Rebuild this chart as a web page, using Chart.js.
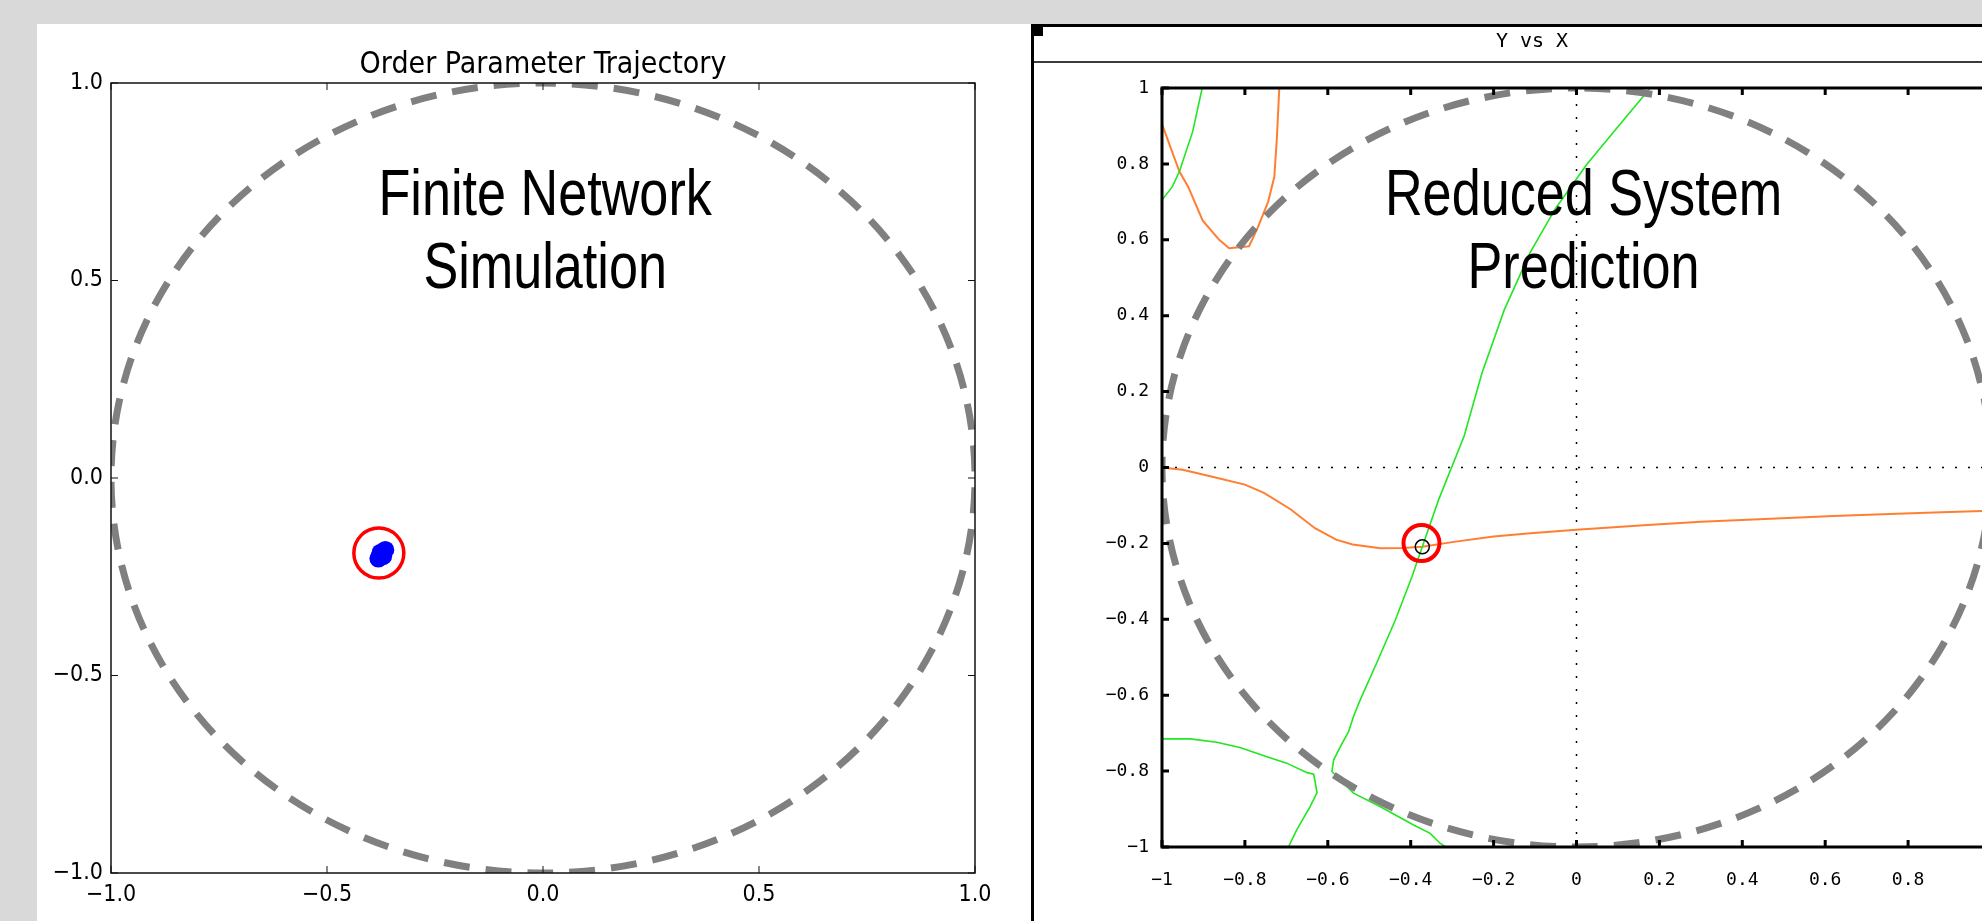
<!DOCTYPE html>
<html>
<head>
<meta charset="utf-8">
<title>Order parameter: network simulation vs reduced system</title>
<script src="https://cdn.jsdelivr.net/npm/chart.js@4.4.1/dist/chart.umd.min.js"></script>
<style>
  html, body { margin: 0; padding: 0; width: 1982px; height: 921px; overflow: hidden; background: #d9d9d9; }
  #leftPanel { position: absolute; left: 37px; top: 24px; width: 994px; height: 897px; background: #fff; }
  #rightPanel { position: absolute; left: 1031px; top: 24px; width: 999px; height: 894px; background: #fff;
                border-left: 3px solid #000; border-top: 3px solid #000; }
  #headerRule { position: absolute; left: 0; top: 34px; width: 100%; height: 2px; background: #3c3c3c; }
  #cornerBox { position: absolute; left: 1031px; top: 24px; width: 12px; height: 12px; background: #000; }
  canvas { position: absolute; left: 0; top: 0; }
</style>
</head>
<body>
<div id="leftPanel"><canvas id="simChart" width="994" height="897"></canvas></div>
<div id="rightPanel"><canvas id="reducedChart" width="999" height="894"></canvas><div id="headerRule"></div></div>
<div id="cornerBox"></div>
<script>
// ---- Finite network simulation: order parameter samples (settled cluster) ----
const simTrajX = [-0.381, -0.377, -0.373, -0.369, -0.365, -0.376, -0.370];
const simTrajY = [-0.204, -0.198, -0.193, -0.187, -0.182, -0.189, -0.198];
const simMarkX = [-0.38];
const simMarkY = [-0.19];

// ---- Reduced system: nullclines (orange / green) ----
const orangeUpperX = [-1.0, -0.958, -0.937, -0.902, -0.862, -0.838, -0.79, -0.769, -0.744, -0.729, -0.723, -0.717];
const orangeUpperY = [0.905, 0.78, 0.74, 0.651, 0.60, 0.578, 0.583, 0.632, 0.70, 0.766, 0.866, 1.0];

const orangeLowerX = [-1.0, -0.95, -0.876, -0.80, -0.754, -0.69, -0.631, -0.58, -0.54, -0.473, -0.42, -0.372,
                      -0.296, -0.2, -0.111, 0.0, 0.162, 0.3, 0.468, 0.62, 0.773, 0.9, 1.0];
const orangeLowerY = [0.0, -0.006, -0.025, -0.045, -0.067, -0.11, -0.16, -0.19, -0.203, -0.213, -0.212, -0.209,
                      -0.196, -0.182, -0.173, -0.164, -0.152, -0.143, -0.135, -0.128, -0.122, -0.117, -0.114];

const greenUpperX = [-1.0, -0.975, -0.958, -0.926, -0.903];
const greenUpperY = [0.705, 0.74, 0.78, 0.885, 1.0];

const greenMainX = [0.178, 0.101, 0.025, -0.051, -0.112, -0.174, -0.228, -0.271, -0.333, -0.361, -0.372,
                    -0.397, -0.437, -0.48, -0.522, -0.538, -0.55, -0.57, -0.586, -0.59,
                    -0.57, -0.538, -0.473, -0.393, -0.353, -0.329, -0.316];
const greenMainY = [1.0, 0.899, 0.799, 0.682, 0.566, 0.416, 0.249, 0.083, -0.086, -0.174, -0.209,
                    -0.288, -0.402, -0.51, -0.613, -0.656, -0.696, -0.736, -0.771, -0.801,
                    -0.823, -0.858, -0.894, -0.942, -0.964, -0.99, -1.0];

const greenLowerX = [-1.0, -0.932, -0.868, -0.812, -0.747, -0.699, -0.65, -0.634, -0.63, -0.626, -0.643, -0.675, -0.695];
const greenLowerY = [-0.715, -0.715, -0.724, -0.738, -0.762, -0.779, -0.804, -0.808, -0.832, -0.857, -0.894, -0.955, -1.0];

const fixedPointX = [-0.372];
const fixedPointY = [-0.209];
const reducedMarkX = [-0.374];
const reducedMarkY = [-0.199];

const zeroHX = [-1, 1], zeroHY = [0, 0];
const zeroVX = [0, 0], zeroVY = [-1, 1];

// ---- Axis ticks ----
const simTicks = [-1, -0.5, 0, 0.5, 1];
const simTickLabels = ['\u22121.0', '\u22120.5', '0.0', '0.5', '1.0'];
const reducedTicks = [-1, -0.8, -0.6, -0.4, -0.2, 0, 0.2, 0.4, 0.6, 0.8, 1];
const reducedTickLabels = ['\u22121', '\u22120.8', '\u22120.6', '\u22120.4', '\u22120.2', '0', '0.2', '0.4', '0.6', '0.8', '1'];

// ---- Text ----
const simTitle = 'Order Parameter Trajectory';
const reducedTitle = 'Y vs X';
const simCaption = ['Finite Network', 'Simulation'];
const reducedCaption = ['Reduced System', 'Prediction'];

const pts = (xs, ys) => xs.map((x, i) => ({ x, y: ys[i] }));

// Dashed unit circle, placed through the scales
function unitCirclePlugin(radius, color, width, dash, dashOffset) {
  return {
    id: 'unitCircle',
    afterDatasetsDraw(chart) {
      const { ctx, chartArea: a, scales: { x, y } } = chart;
      const cx = x.getPixelForValue(0), cy = y.getPixelForValue(0);
      const rx = Math.abs(x.getPixelForValue(radius) - cx);
      const ry = Math.abs(y.getPixelForValue(radius) - cy);
      ctx.save();
      ctx.beginPath();
      ctx.rect(a.left, a.top, a.right - a.left, a.bottom - a.top);
      ctx.clip();
      ctx.beginPath();
      ctx.ellipse(cx, cy, rx, ry, 0, -Math.PI / 2, 1.5 * Math.PI);
      ctx.setLineDash(dash);
      ctx.lineDashOffset = dashOffset;
      ctx.lineCap = 'butt';
      ctx.lineWidth = width;
      ctx.strokeStyle = color;
      ctx.stroke();
      ctx.restore();
    }
  };
}

// Box frame with inward tick marks on all four sides
function framePlugin(color, width, tickLen, tickWidth) {
  return {
    id: 'frameTicks',
    afterDatasetsDraw(chart) {
      const { ctx, chartArea: a, scales: { x, y } } = chart;
      ctx.save();
      ctx.strokeStyle = color;
      ctx.lineWidth = width;
      ctx.strokeRect(a.left, a.top, a.right - a.left, a.bottom - a.top);
      ctx.lineWidth = tickWidth;
      ctx.beginPath();
      x.ticks.forEach(t => {
        const px = x.getPixelForValue(t.value);
        ctx.moveTo(px, a.bottom); ctx.lineTo(px, a.bottom - tickLen);
        ctx.moveTo(px, a.top); ctx.lineTo(px, a.top + tickLen);
      });
      y.ticks.forEach(t => {
        const py = y.getPixelForValue(t.value);
        ctx.moveTo(a.left, py); ctx.lineTo(a.left + tickLen, py);
        ctx.moveTo(a.right, py); ctx.lineTo(a.right - tickLen, py);
      });
      ctx.stroke();
      ctx.restore();
    }
  };
}

// Large narrow caption written over the plot, anchored in data units
function captionPlugin(lines, anchors, font, squeeze) {
  return {
    id: 'caption',
    afterDraw(chart) {
      const { ctx, scales: { x, y } } = chart;
      lines.forEach((txt, i) => {
        ctx.save();
        ctx.translate(x.getPixelForValue(anchors[i][0]), y.getPixelForValue(anchors[i][1]));
        ctx.scale(squeeze, 1);
        ctx.font = font;
        ctx.fillStyle = '#000';
        ctx.textAlign = 'center';
        ctx.textBaseline = 'alphabetic';
        ctx.fillText(txt, 0, 0);
        ctx.restore();
      });
    }
  };
}

function fixedTicks(values) {
  return function (scale) { scale.ticks = values.map(v => ({ value: v })); };
}

const simFont = '"DejaVu Sans Condensed", "DejaVu Sans", sans-serif';
const monoFont = '"DejaVu Sans Mono", "Liberation Mono", monospace';
const captionFont = '64px "Liberation Sans", Arial, sans-serif';

// ---------------- Left: finite network simulation ----------------
new Chart(document.getElementById('simChart'), {
  type: 'scatter',
  data: {
    datasets: [
      { data: pts(simMarkX, simMarkY), pointRadius: 25, pointBorderWidth: 3.5,
        borderColor: '#ff0000', backgroundColor: 'rgba(0,0,0,0)', pointBorderColor: '#ff0000',
        pointBackgroundColor: 'rgba(0,0,0,0)' },
      { data: pts(simTrajX, simTrajY), pointRadius: 9, pointBorderWidth: 0,
        pointBackgroundColor: '#0000ff', backgroundColor: '#0000ff', borderColor: '#0000ff' }
    ]
  },
  options: {
    responsive: false, animation: false, events: [],
    layout: { padding: { left: 14, right: 56, top: 0, bottom: 0 } },
    plugins: {
      legend: { display: false }, tooltip: { enabled: false },
      title: { display: true, text: simTitle, fullSize: false, color: '#000',
               font: { family: simFont, size: 30, weight: 'normal' }, padding: { top: 23, bottom: 0 } }
    },
    scales: {
      x: { type: 'linear', min: -1, max: 1, afterBuildTicks: fixedTicks(simTicks),
           afterFit(s) { s.height = 48; },
           grid: { display: false, drawTicks: false }, border: { display: false },
           ticks: { autoSkip: false, maxRotation: 0, padding: 8, color: '#000',
                    font: { family: simFont, size: 23 },
                    callback: (v, i) => simTickLabels[i] } },
      y: { type: 'linear', min: -1, max: 1, afterBuildTicks: fixedTicks(simTicks),
           afterFit(s) { s.width = 60; },
           grid: { display: false, drawTicks: false }, border: { display: false },
           ticks: { autoSkip: false, padding: 8, color: '#000',
                    font: { family: simFont, size: 23 },
                    callback: (v, i) => simTickLabels[i] } }
    }
  },
  plugins: [
    unitCirclePlugin(1, '#808080', 7, [26, 16], 13),
    framePlugin('#111', 1.5, 7, 1),
    captionPlugin(simCaption, [[0.005, 0.666], [0.005, 0.481]], captionFont, 0.815)
  ]
});

// ---------------- Right: reduced system prediction ----------------
const lineDs = (xs, ys, color, width) => ({
  data: pts(xs, ys), showLine: true, borderColor: color, borderWidth: width,
  pointRadius: 0, tension: 0, fill: false
});

new Chart(document.getElementById('reducedChart'), {
  type: 'scatter',
  data: {
    datasets: [
      { data: pts(reducedMarkX, reducedMarkY), pointRadius: 18, pointBorderWidth: 4,
        pointBorderColor: '#ff0000', pointBackgroundColor: 'rgba(0,0,0,0)',
        borderColor: '#ff0000', backgroundColor: 'rgba(0,0,0,0)' },
      { data: pts(fixedPointX, fixedPointY), pointRadius: 7, pointBorderWidth: 1.5,
        pointBorderColor: '#000', pointBackgroundColor: 'rgba(0,0,0,0)',
        borderColor: '#000', backgroundColor: 'rgba(0,0,0,0)' },
      lineDs(greenMainX, greenMainY, '#22e622', 1.6),
      lineDs(greenUpperX, greenUpperY, '#22e622', 1.6),
      lineDs(greenLowerX, greenLowerY, '#22e622', 1.6),
      lineDs(orangeLowerX, orangeLowerY, '#ff7f32', 2),
      lineDs(orangeUpperX, orangeUpperY, '#ff7f32', 2),
      Object.assign(lineDs(zeroHX, zeroHY, '#000', 1.5), { borderDash: [2, 11] }),
      Object.assign(lineDs(zeroVX, zeroVY, '#000', 1.5), { borderDash: [2, 11] })
    ]
  },
  options: {
    responsive: false, animation: false, events: [],
    layout: { padding: { left: 39, right: 42, top: 0, bottom: 0 } },
    plugins: {
      legend: { display: false }, tooltip: { enabled: false },
      title: { display: true, text: reducedTitle, fullSize: true, color: '#000',
               font: { family: monoFont, size: 20, weight: 'normal' }, padding: { top: 3, bottom: 34 } }
    },
    scales: {
      x: { type: 'linear', min: -1, max: 1, afterBuildTicks: fixedTicks(reducedTicks),
           afterFit(s) { s.height = 74; },
           grid: { display: false, drawTicks: false }, border: { display: false },
           ticks: { autoSkip: false, maxRotation: 0, padding: 23, color: '#000',
                    font: { family: monoFont, size: 18 },
                    callback: (v, i) => reducedTickLabels[i] } },
      y: { type: 'linear', min: -1, max: 1, afterBuildTicks: fixedTicks(reducedTicks),
           afterFit(s) { s.width = 89; },
           grid: { display: false, drawTicks: false }, border: { display: false },
           ticks: { autoSkip: false, padding: 13, color: '#000',
                    font: { family: monoFont, size: 18 },
                    callback: (v, i) => reducedTickLabels[i] } }
    }
  },
  plugins: [
    unitCirclePlugin(1, '#808080', 7, [26, 16], 34),
    framePlugin('#000', 3, 7, 3),
    captionPlugin(reducedCaption, [[0.017, 0.665], [0.017, 0.473]], captionFont, 0.815)
  ]
});
</script>
</body>
</html>
